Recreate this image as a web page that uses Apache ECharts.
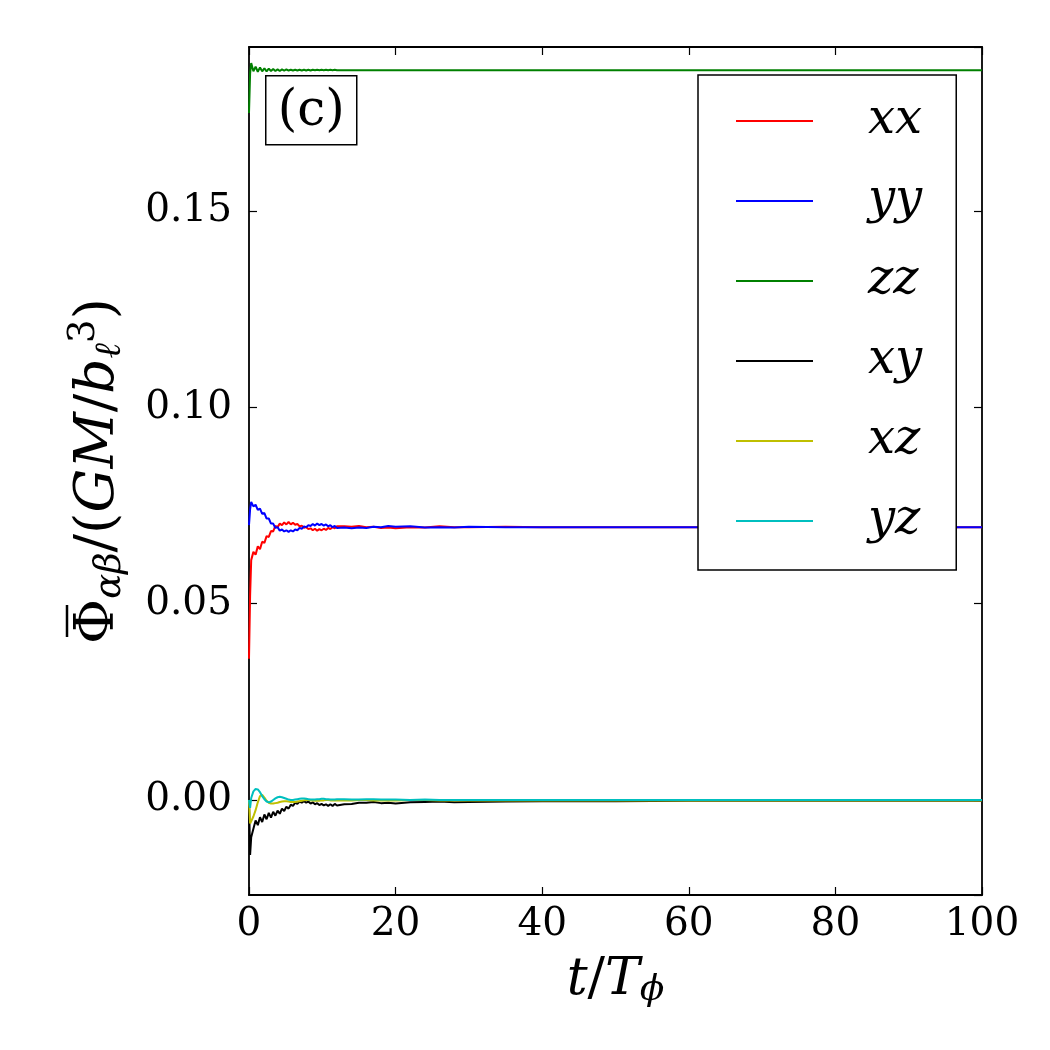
<!DOCTYPE html>
<html>
<head>
<meta charset="utf-8">
<script src="https://cdn.jsdelivr.net/npm/echarts@6/dist/echarts.min.js"></script>
<style>html,body{margin:0;padding:0;background:#fff}#c{width:1050px;height:1050px}</style>
</head>
<body>
<div id="c"></div>
<script>
// time samples (t / T_phi)
const tVals = [0, 0.15, 0.3, 0.6, 0.9, 1.2, 1.5, 1.8, 2.1, 2.4, 2.7, 3.0, 3.3, 3.6, 3.9, 4.2, 4.5, 4.8, 5.1, 5.4, 5.7, 6.0, 6.3, 6.6, 6.9, 7.2, 7.5, 7.8, 8.1, 8.4, 8.7, 9.0, 9.3, 9.6, 9.9, 10.2, 10.5, 10.8, 11.1, 11.4, 11.7, 12.0, 13, 14, 15, 16, 17, 18, 19, 20, 22, 24, 26, 28, 30, 35, 40, 50, 60, 70, 80, 90, 100];

const xxVals = [0.0360, 0.0520, 0.0611, 0.0632, 0.0625, 0.0646, 0.0639, 0.0658, 0.0655, 0.0672, 0.0670, 0.0685, 0.0684, 0.0698, 0.0695, 0.0704, 0.0700, 0.0707, 0.0702, 0.0708, 0.0702, 0.0706, 0.0701, 0.0703, 0.0697, 0.0699, 0.0693, 0.0695, 0.0690, 0.0692, 0.0687, 0.0691, 0.0686, 0.0690, 0.0687, 0.0691, 0.0688, 0.0693, 0.0690, 0.0695, 0.0692, 0.0697, 0.0697, 0.0696, 0.0698, 0.0695, 0.0696, 0.0693, 0.0694, 0.0692, 0.0695, 0.0694, 0.0697, 0.0695, 0.0695, 0.0696, 0.0695, 0.0695, 0.0695, 0.0695, 0.0695, 0.0695, 0.0695];

const yyVals = [0.0700, 0.0740, 0.0759, 0.0748, 0.0752, 0.0739, 0.0742, 0.0729, 0.0731, 0.0717, 0.0717, 0.0704, 0.0704, 0.0693, 0.0695, 0.0686, 0.0689, 0.0684, 0.0687, 0.0683, 0.0687, 0.0684, 0.0689, 0.0687, 0.0693, 0.0691, 0.0697, 0.0695, 0.0700, 0.0698, 0.0703, 0.0699, 0.0704, 0.0700, 0.0703, 0.0699, 0.0702, 0.0697, 0.0700, 0.0695, 0.0698, 0.0693, 0.0694, 0.0692, 0.0694, 0.0693, 0.0696, 0.0695, 0.0698, 0.0696, 0.0697, 0.0694, 0.0695, 0.0694, 0.0696, 0.0695, 0.0695, 0.0695, 0.0695, 0.0695, 0.0695, 0.0695, 0.0695];

const zzVals = [0.1750, 0.1850, 0.1877, 0.1856, 0.1868, 0.1855, 0.1866, 0.1856, 0.1864, 0.1856, 0.1863, 0.1857, 0.1862, 0.1857, 0.1861, 0.1857, 0.1861, 0.1858, 0.1861, 0.1858, 0.1860, 0.1858, 0.1860, 0.1858, 0.1860, 0.1858, 0.1860, 0.1858, 0.1860, 0.1858, 0.1860, 0.1859, 0.1860, 0.1859, 0.1860, 0.1859, 0.1860, 0.1859, 0.1860, 0.1859, 0.1860, 0.1859, 0.1859, 0.1859, 0.1859, 0.1859, 0.1859, 0.1859, 0.1859, 0.1859, 0.1859, 0.1859, 0.1859, 0.1859, 0.1859, 0.1859, 0.1859, 0.1859, 0.1859, 0.1859, 0.1859, 0.1859, 0.1859];

const xyVals = [0.0000, -0.0140, -0.0095, -0.0073, -0.0052, -0.0064, -0.0044, -0.0056, -0.0037, -0.0049, -0.0033, -0.0045, -0.0030, -0.0040, -0.0027, -0.0035, -0.0022, -0.0028, -0.0017, -0.0022, -0.0012, -0.0015, -0.0007, -0.0010, -0.0004, -0.0007, -0.0003, -0.0007, -0.0004, -0.0009, -0.0006, -0.0011, -0.0008, -0.0013, -0.0010, -0.0014, -0.0011, -0.0015, -0.0011, -0.0015, -0.0010, -0.0014, -0.0011, -0.0010, -0.0007, -0.0007, -0.0005, -0.0008, -0.0007, -0.0009, -0.0006, -0.0005, -0.0004, -0.0006, -0.0005, -0.0004, -0.0003, -0.0003, -0.0002, -0.0002, -0.0002, -0.0002, -0.0002];

const xzVals = [0.0000, -0.0060, -0.0056, -0.0042, -0.0026, -0.0006, 0.0010, 0.0013, 0.0006, -0.0002, -0.0007, -0.0009, -0.0009, -0.0008, -0.0007, -0.0005, -0.0004, -0.0003, -0.0003, -0.0004, -0.0005, -0.0005, -0.0005, -0.0004, -0.0003, -0.0002, -0.0001, 0.0000, 0.0000, -0.0001, -0.0001, -0.0002, -0.0002, -0.0002, -0.0001, -0.0001, 0.0000, 0.0000, -0.0001, -0.0001, -0.0001, -0.0001, -0.0001, -0.0001, 0.0000, 0.0000, -0.0001, -0.0001, -0.0001, -0.0001, 0.0000, 0.0000, -0.0001, -0.0001, -0.0001, -0.0001, -0.0001, -0.0001, -0.0001, -0.0001, -0.0001, -0.0001, -0.0001];

const yzVals = [0.0000, -0.0020, 0.0005, 0.0022, 0.0028, 0.0027, 0.0020, 0.0010, 0.0002, -0.0004, -0.0006, -0.0004, 0.0000, 0.0004, 0.0007, 0.0008, 0.0007, 0.0005, 0.0003, 0.0001, 0.0000, 0.0000, 0.0001, 0.0002, 0.0003, 0.0004, 0.0004, 0.0003, 0.0002, 0.0001, 0.0001, 0.0001, 0.0002, 0.0002, 0.0003, 0.0003, 0.0002, 0.0002, 0.0001, 0.0001, 0.0001, 0.0002, 0.0002, 0.0001, 0.0001, 0.0002, 0.0002, 0.0001, 0.0001, 0.0001, 0.0000, 0.0001, 0.0000, 0.0000, 0.0000, 0.0000, 0.0000, 0.0000, 0.0000, 0.0000, 0.0000, 0.0000, 0.0000];

const seriesNames = ['xx', 'yy', 'zz', 'xy', 'xz', 'yz'];
const seriesColors = ['#ff0000', '#0000ff', '#008000', '#000000', '#bfbf00', '#00bfbf'];
const seriesVals = [xxVals, yyVals, zzVals, xyVals, xzVals, yzVals];

const xMin = 0, xMax = 100;
const yMin = -0.0242, yMax = 0.1918;

const chart = echarts.init(document.getElementById('c'), null, {renderer: 'canvas'});
const serif = 'DejaVu Serif';
const tickStyle = {show: true, inside: true, length: 8, lineStyle: {color: '#000', width: 1.2}};
const lineAx = {show: true, onZero: false, lineStyle: {color: '#000', width: 1.8}};

const option = {
  backgroundColor: '#fff',
  animation: false,
  grid: {left: 249, right: 68, top: 47, bottom: 155, containLabel: false},
  legend: {
    orient: 'vertical', left: 698, top: 75,
    padding: [22, 34, 25, 38],
    borderColor: '#000', borderWidth: 1.5, backgroundColor: '#fff',
    icon: 'rect', itemWidth: 77, itemHeight: 2, itemGap: 32,
    data: seriesNames,
    textStyle: {fontFamily: serif, fontStyle: 'italic', fontSize: 48, color: '#000', lineHeight: 44, padding: [0, 0, 0, 50]}
  },
  xAxis: [{
    type: 'value', min: xMin, max: xMax, interval: 20,
    axisLine: lineAx, axisTick: tickStyle, splitLine: {show: false},
    axisLabel: {fontFamily: serif, fontSize: 39, color: '#000', margin: 10},
    name: '{i|t}{n|/}{i|T}{s|\u03D5}', nameLocation: 'middle', nameGap: 56,
    nameTextStyle: {rich: {
      i: {fontFamily: serif, fontStyle: 'italic', fontSize: 52, color: '#000'},
      n: {fontFamily: serif, fontSize: 52, color: '#000'},
      s: {fontFamily: serif, fontStyle: 'italic', fontSize: 36, color: '#000', padding: [22, 0, 0, 0]}
    }}
  }, {
    type: 'value', position: 'top', min: xMin, max: xMax, interval: 20,
    axisLine: lineAx, axisTick: tickStyle, axisLabel: {show: false}, splitLine: {show: false}
  }],
  yAxis: [{
    type: 'value', min: yMin, max: yMax, splitNumber: 4,
    axisLine: lineAx, axisTick: tickStyle, splitLine: {show: false},
    axisLabel: {fontFamily: serif, fontSize: 39, color: '#000', margin: 17, showMinLabel: false, showMaxLabel: false,
      formatter: v => v.toFixed(2)},
    name: '{b|Φ}{s|αβ}{n|/(}{i|GM}{n|/}{i|b}{s|ℓ}{p|3}{n|)}',
    nameLocation: 'middle', nameGap: 118, nameRotate: 90,
    nameTextStyle: {rich: {
      b: {fontFamily: serif, fontSize: 55, color: '#000'},
      i: {fontFamily: serif, fontStyle: 'italic', fontSize: 55, color: '#000'},
      n: {fontFamily: serif, fontSize: 55, color: '#000'},
      s: {fontFamily: serif, fontStyle: 'italic', fontSize: 37, color: '#000', padding: [24, 0, 0, 0]},
      p: {fontFamily: serif, fontSize: 37, color: '#000', padding: [0, 0, 28, 0]}
    }}
  }, {
    type: 'value', position: 'right', min: yMin, max: yMax, splitNumber: 4,
    axisLine: lineAx, axisTick: tickStyle, axisLabel: {show: false}, splitLine: {show: false}
  }],
  series: seriesNames.map((name, k) => ({
    name: name, type: 'line', xAxisIndex: 0, yAxisIndex: 0,
    symbol: 'none', showSymbol: false, smooth: false,
    lineStyle: {color: seriesColors[k], width: 2},
    itemStyle: {color: seriesColors[k]},
    data: tVals.map((t, i) => [t, seriesVals[k][i]]),
    z: 2 + k
  })),
  graphic: [{
    type: 'group', left: 265, top: 75, z: 100,
    children: [
      {type: 'rect', shape: {x: 0, y: 0, width: 91, height: 69}, style: {fill: '#fff', stroke: '#000', lineWidth: 1.5}},
      {type: 'text', x: 45.5, y: 36, style: {text: '(c)', fontFamily: serif, fontSize: 50, fill: '#000', align: 'center', verticalAlign: 'middle'}}
    ]
  }, {
    // overline of the Φ in the y-axis title
    type: 'line', z: 100,
    shape: {x1: 67, y1: 605, x2: 67, y2: 637},
    style: {stroke: '#000', lineWidth: 2.5}
  }]
};
chart.setOption(option);
</script>
</body>
</html>
